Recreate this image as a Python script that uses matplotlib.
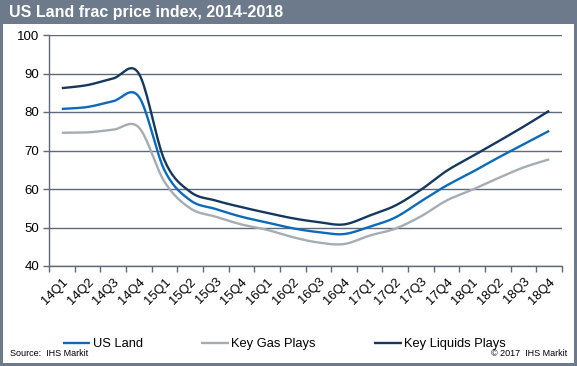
import numpy as np
import matplotlib.pyplot as plt
from matplotlib.patches import Rectangle

plt.rcParams['font.family'] = ['Liberation Sans', 'DejaVu Sans']

quarters = ['14Q1', '14Q2', '14Q3', '14Q4', '15Q1', '15Q2', '15Q3', '15Q4',
            '16Q1', '16Q2', '16Q3', '16Q4', '17Q1', '17Q2', '17Q3', '17Q4',
            '18Q1', '18Q2', '18Q3', '18Q4']
us_land = [80.8, 81.3, 82.8, 84.0, 64.9, 57.1, 54.8, 52.8, 51.3, 49.8,
           48.8, 48.3, 50.2, 52.6, 56.8, 60.9, 64.4, 68.1, 71.6, 75.1]
gas_plays = [74.6, 74.7, 75.4, 76.0, 61.9, 55.0, 52.8, 50.8, 49.4, 47.5,
             46.1, 45.7, 47.9, 49.7, 52.9, 57.0, 59.8, 62.8, 65.6, 67.7]
liquids_plays = [86.2, 87.0, 88.7, 90.0, 67.5, 59.3, 57.0, 55.3, 53.8, 52.4,
                 51.4, 50.8, 53.1, 55.7, 59.8, 64.7, 68.5, 72.3, 76.2, 80.3]

frame_col = '#6D7A8B'
grid_col = '#5E6A79'


def smooth(x, y, n=20):
    # Excel-style smoothed line: cubic bezier with catmull-rom control points
    x = np.asarray(x, float)
    y = np.asarray(y, float)
    px = np.concatenate([[x[0]], x, [x[-1]]])
    py = np.concatenate([[y[0]], y, [y[-1]]])
    xs, ys = [], []
    t = np.linspace(0, 1, n)
    for i in range(1, len(px) - 2):
        p0 = np.array([px[i], py[i]])
        p3 = np.array([px[i + 1], py[i + 1]])
        c1 = p0 + (np.array([px[i + 1], py[i + 1]]) - np.array([px[i - 1], py[i - 1]])) / 6
        c2 = p3 - (np.array([px[i + 2], py[i + 2]]) - np.array([px[i], py[i]])) / 6
        b = ((1 - t) ** 3)[:, None] * p0 + (3 * (1 - t) ** 2 * t)[:, None] * c1 \
            + (3 * (1 - t) * t ** 2)[:, None] * c2 + (t ** 3)[:, None] * p3
        xs.extend(b[:, 0])
        ys.extend(b[:, 1])
    return np.array(xs), np.array(ys)


fig = plt.figure(figsize=(5.77, 3.66), dpi=100)
fig.patch.set_facecolor('white')

# title bar and frame
fig.add_artist(Rectangle((0, 1 - 24 / 366), 1, 24 / 366, transform=fig.transFigure,
                         facecolor=frame_col, edgecolor='none'))
fig.add_artist(Rectangle((0, 0), 3 / 577, 1, transform=fig.transFigure,
                         facecolor=frame_col, edgecolor='none'))
fig.add_artist(Rectangle((1 - 3 / 577, 0), 3 / 577, 1, transform=fig.transFigure,
                         facecolor=frame_col, edgecolor='none'))
fig.add_artist(Rectangle((0, 0), 1, 3 / 366, transform=fig.transFigure,
                         facecolor=frame_col, edgecolor='none'))
fig.text(9 / 577, 1 - 12 / 366, 'US Land frac price index, 2014-2018', color='white',
         fontsize=11.5, fontweight='bold', va='center', ha='left')

ax = fig.add_axes([49 / 577, 1 - 266 / 366, 513 / 577, 231 / 366])

xpos = np.arange(len(quarters))
for vals, col, lab in [(us_land, '#0B6BBA', 'US Land'),
                       (gas_plays, '#A5ADB4', 'Key Gas Plays'),
                       (liquids_plays, '#15385F', 'Key Liquids Plays')]:
    sx, sy = smooth(xpos, vals)
    ax.plot(sx, sy, color=col, lw=1.7, label=lab, solid_capstyle='butt')

ax.set_xlim(-0.5, len(quarters) - 0.5)
ax.set_ylim(40, 100)
ax.set_yticks(np.arange(40, 101, 10))
ax.yaxis.grid(True, color=grid_col, lw=1)
ax.set_axisbelow(True)
ax.set_xticks(np.arange(-0.5, len(quarters), 1))
ax.set_xticklabels([])
ax.set_xticks(xpos, minor=True)
ax.set_xticklabels(quarters, minor=True, rotation=45, ha='right', va='top',
                   rotation_mode='anchor', fontsize=9.3)
ax.tick_params(axis='x', which='minor', length=0, pad=7)
ax.tick_params(axis='x', which='major', length=4, color=grid_col, width=1)
ax.tick_params(axis='y', length=4, color=grid_col, width=1, labelsize=9.5, pad=3)
for s in ['top', 'right']:
    ax.spines[s].set_visible(False)
for s in ['left', 'bottom']:
    ax.spines[s].set_color(grid_col)
    ax.spines[s].set_linewidth(1)

fig.legend(loc='center left', bbox_to_anchor=(63 / 577, 1 - 344 / 366), ncol=3,
           frameon=False, fontsize=9.3, handlelength=2.1, handletextpad=0.2,
           columnspacing=4.55, borderaxespad=0, borderpad=0)

fig.text(10 / 577, 1 - 353 / 366, 'Source:  IHS Markit', fontsize=6.5, va='center', ha='left')
fig.text(567 / 577, 1 - 353 / 366, '\u00a9 2017  IHS Markit', fontsize=6.5, va='center', ha='right')

fig.savefig('out.png', dpi=100)
